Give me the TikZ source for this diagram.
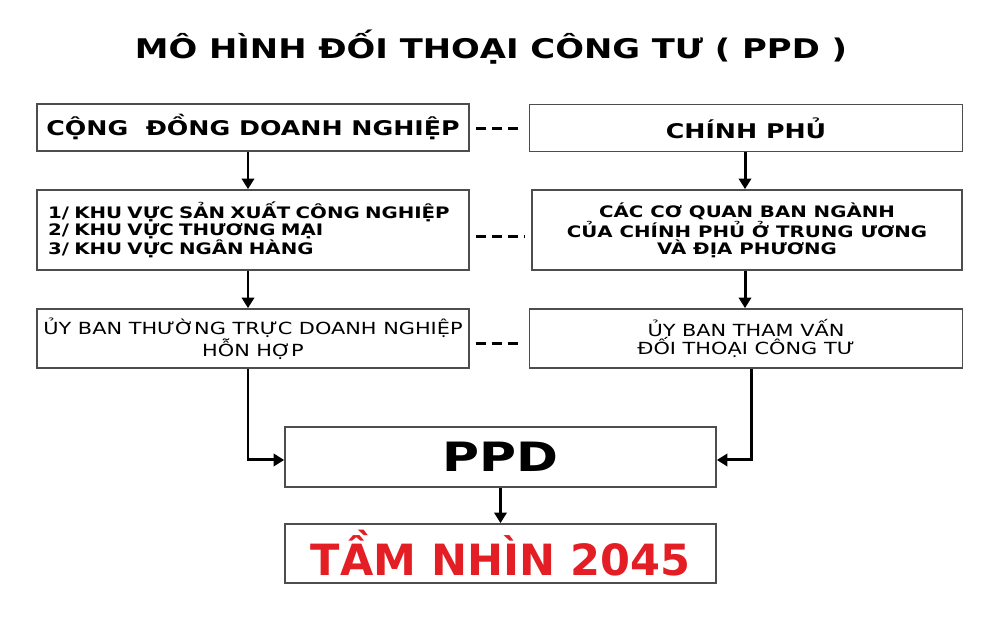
\documentclass[tikz,border=0pt]{standalone}
\usepackage{fontspec}
\usepackage{tikz}
\usetikzlibrary{calc}
\usetikzlibrary{arrows.meta}
\newfontfamily\geofont{DejaVu Sans}[FakeStretch=1.25]
\newfontfamily\redfont{DejaVu Sans}
\definecolor{boxgray}{HTML}{4D4D4D}
\definecolor{visionred}{HTML}{E31E24}
\tikzset{
	box/.style={draw=boxgray,line width=1pt,minimum width=8.64cm,inner sep=0pt},
	boldtext/.style={font=\geofont\bfseries\fontsize{#1}{9.45}\selectfont},
	thintext/.style={font=\geofont\fontsize{#1}{10.2}\selectfont},
	arr/.style={line width=1.7pt,-{Triangle[width=7pt,length=6pt]}},
	dashline/.style={line width=1.7pt,dash pattern=on 5.7pt off 3.4pt,shorten <=3.4pt,shorten >=3.4pt}
}

\begin{document}
\begin{tikzpicture}[x=0.02cm,y=-0.02cm]
	\useasboundingbox[fill=white] (0,0) rectangle (1000,624);
	\node[boldtext=15.4] (title) at (491,47) {MÔ HÌNH ĐỐI THOẠI CÔNG TƯ ( PPD )};
	\node[box,boldtext=11.5,minimum height=0.94cm] (cong) at (253,127.5) {CỘNG\ \ ĐỒNG DOANH NGHIỆP};
	\node[box,boldtext=11.5,minimum height=0.94cm,minimum width=8.66cm] (chinh) at (746,128) {CHÍNH PHỦ};
	\node[box,boldtext=9.0,minimum height=1.6cm,text width=8.2cm,align=left] (khuvuc) at (253,230) {1/ KHU VỰC SẢN XUẤT CÔNG NGHIỆP\\2/ KHU VỰC THƯƠNG MẠI\\3/ KHU VỰC NGÂN HÀNG};
	\node[box,boldtext=9.0,minimum height=1.6cm,minimum width=8.6cm,align=center] (coquan) at (747,230) {CÁC CƠ QUAN BAN NGÀNH\\CỦA CHÍNH PHỦ Ở TRUNG ƯƠNG\\VÀ ĐỊA PHƯƠNG};
	\node[box,thintext=9.5,minimum height=1.18cm,align=center] (uyban) at (253,338.5) {ỦY BAN THƯỜNG TRỰC DOANH NGHIỆP\\HỖN HỢP};
	\node[box,thintext=9.5,minimum height=1.18cm,minimum width=8.66cm,align=center] (thamvan) at (746,338.5) {ỦY BAN THAM VẤN\\ĐỐI THOẠI CÔNG TƯ};
	\node[box,boldtext=23,minimum height=1.2cm,minimum width=8.62cm] (ppd) at (500.5,457) {PPD};
	\node[box,minimum height=1.18cm,minimum width=8.62cm,text=visionred,font=\redfont\bfseries\fontsize{24.5}{27}\selectfont] (vision) at (500.5,553.5) {TẦM NHÌN 2045};
	\coordinate (lx) at (248,0);
	\coordinate (rx) at (745,0);
	\coordinate (rb) at (751,0);
	\draw[arr] (cong.south -| lx) -- (khuvuc.north -| lx);
	\draw[arr] (chinh.south -| rx) -- (coquan.north -| rx);
	\draw[arr] (khuvuc.south -| lx) -- (uyban.north -| lx);
	\draw[arr] (coquan.south -| rx) -- (thamvan.north -| rx);
	\draw[arr] (uyban.south -| lx) |- ([yshift=-1.7pt]ppd.west);
	\draw[arr] (thamvan.south -| rb) |- ([yshift=-1.7pt]ppd.east);
	\draw[arr] (ppd) -- (vision);
	\draw[dashline] ([yshift=-0.3pt]cong.east) -- ([yshift=-0.3pt]chinh.west |- cong.east);
	\draw[dashline] ([yshift=-3.5pt]khuvuc.east) -- ([yshift=-3.5pt]coquan.west |- khuvuc.east);
	\draw[dashline] ([yshift=-2.6pt]uyban.east) -- ([yshift=-2.6pt]thamvan.west |- uyban.east);
\end{tikzpicture}
\end{document}
